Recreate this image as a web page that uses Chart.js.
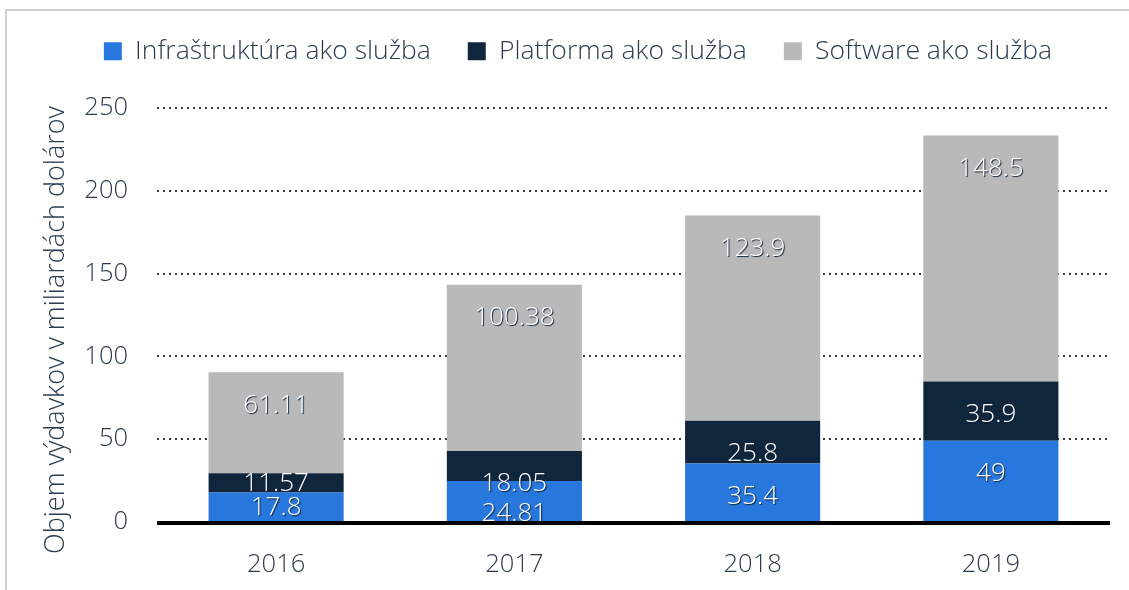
<!DOCTYPE html>
<html>
<head>
<meta charset="utf-8">
<script src="https://cdn.jsdelivr.net/npm/chart.js@4.4.1/dist/chart.umd.min.js"></script>
<style>
  html, body { margin: 0; padding: 0; background: #fff; }
  #frame { position: absolute; left: 5px; top: 9px; width: 1124px; height: 581px; border-top: 2px solid #cfcfcf; border-left: 2px solid #cfcfcf; box-sizing: border-box; }
  #wrap { position: absolute; left: 0; top: 0; width: 1129px; height: 590px; }
</style>
</head>
<body>
<div id="frame"></div>
<div id="wrap"><canvas id="c" width="1129" height="590"></canvas></div>
<script>
const categories = ['2016', '2017', '2018', '2019'];
const seriesNames = ['Infraštruktúra ako služba', 'Platforma ako služba', 'Software ako služba'];
const iaas = [17.8, 24.81, 35.4, 49];
const paas = [11.57, 18.05, 25.8, 35.9];
const saas = [61.11, 100.38, 123.9, 148.5];
const iaasLabels = ['17.8', '24.81', '35.4', '49'];
const paasLabels = ['11.57', '18.05', '25.8', '35.9'];
const saasLabels = ['61.11', '100.38', '123.9', '148.5'];
const yTicks = [0, 50, 100, 150, 200, 250];
const yTitle = 'Objem výdavkov v miliardách dolárov';

const TEXT = '#2a3c4e';
const FONT = "'Open Sans', 'Noto Sans', sans-serif";

const valueLabels = {
  id: 'valueLabels',
  afterDatasetsDraw(chart) {
    const ctx = chart.ctx;
    ctx.save();
    ctx.font = '300 26px ' + FONT;
    ctx.textAlign = 'center';
    ctx.textBaseline = 'middle';
    ctx.fillStyle = '#ffffff';
    ctx.shadowColor = '#0e2236';
    ctx.shadowOffsetX = 1;
    ctx.shadowOffsetY = 1;
    ctx.shadowBlur = 1;
    chart.data.datasets.forEach((ds, di) => {
      const meta = chart.getDatasetMeta(di);
      meta.data.forEach((el, i) => {
        const top = Math.min(el.y, el.base);
        const h = Math.abs(el.base - el.y);
        const y = h >= 29.7 ? top + 33 : top + h / 2 + 1;
        ctx.fillText(ds.labelsText[i], el.x, y);
      });
    });
    ctx.restore();
  }
};

const baseline = {
  id: 'baseline',
  afterDatasetsDraw(chart) {
    const ctx = chart.ctx;
    const y = chart.scales.y.getPixelForValue(0);
    ctx.save();
    ctx.strokeStyle = '#000';
    ctx.lineWidth = 4;
    ctx.beginPath();
    ctx.moveTo(chart.chartArea.left, y + 1);
    ctx.lineTo(chart.chartArea.right, y + 1);
    ctx.stroke();
    ctx.restore();
  }
};

const layoutTweaks = {
  id: 'layoutTweaks',
  beforeInit(chart) {
    const orig = chart.legend.fit;
    chart.legend.fit = function () {
      orig.call(this);
      this.height = 108;
    };
  },
  afterLayout(chart) {
    const lg = chart.legend;
    lg.left += 23; lg.right += 23;
    lg.top += 1; lg.bottom += 1;
    // centre the rotated axis title lower, as in the reference
    chart.scales.y.bottom += 30;
  }
};

new Chart(document.getElementById('c'), {
  type: 'bar',
  data: {
    labels: categories,
    datasets: [
      { label: seriesNames[0], data: iaas, labelsText: iaasLabels, backgroundColor: '#2877dd' },
      { label: seriesNames[1], data: paas, labelsText: paasLabels, backgroundColor: '#10263d' },
      { label: seriesNames[2], data: saas, labelsText: saasLabels, backgroundColor: '#b9b9b9' }
    ]
  },
  plugins: [valueLabels, baseline, layoutTweaks],
  options: {
    responsive: false,
    animation: false,
    devicePixelRatio: 1,
    layout: { padding: { left: 0, right: 19, top: 0, bottom: 0 } },
    datasets: { bar: { categoryPercentage: 1, barPercentage: 0.567, borderWidth: 0 } },
    plugins: {
      tooltip: { enabled: false },
      legend: {
        position: 'top',
        labels: {
          boxWidth: 18, boxHeight: 18, padding: 37,
          color: TEXT,
          font: { family: FONT, size: 26.5, weight: '300' }
        }
      }
    },
    scales: {
      x: {
        stacked: true,
        grid: { display: false, drawTicks: false },
        border: { display: false },
        ticks: { color: TEXT, padding: 27, font: { family: FONT, size: 25.5, weight: '300' } },
        afterFit(scale) { scale.height = 68; }
      },
      y: {
        stacked: true,
        min: 0, max: 250,
        afterBuildTicks(scale) { scale.ticks = yTicks.map(v => ({ value: v })); },
        grid: {
          drawTicks: false,
          color: ctx => ctx.tick && ctx.tick.value === 0 ? 'rgba(0,0,0,0)' : '#3a3a3a',
          lineWidth: 2
        },
        border: { display: false, dash: [2, 4] },
        ticks: { color: TEXT, padding: 29, font: { family: FONT, size: 25.5, weight: '300' } },
        title: {
          display: true, text: yTitle, color: TEXT,
          padding: { top: 40, bottom: 0 },
          font: { family: FONT, size: 27, weight: '300' }
        },
        afterFit(scale) { scale.width = 157; }
      }
    }
  }
});
</script>
</body>
</html>
